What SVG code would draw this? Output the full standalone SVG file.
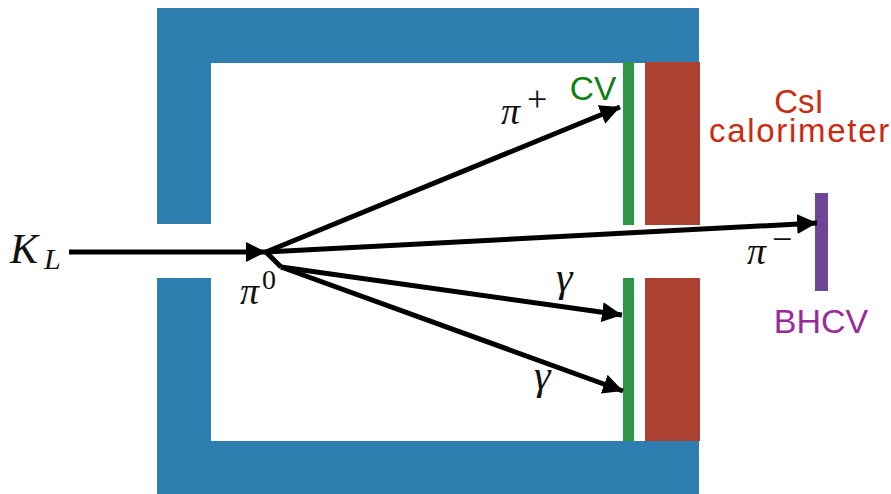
<svg xmlns="http://www.w3.org/2000/svg" width="891" height="494" viewBox="0 0 891 494">
<style>
.blue{fill:#2e7fb0}.red{fill:#ab4130}.green{fill:#2e9645}.purple{fill:#6f4595}
.s{font-family:"Liberation Sans",Arial,sans-serif;text-anchor:middle}
.m{font-family:"Liberation Serif","Times New Roman",serif;fill:#111}
.i{font-style:italic}
.c{fill:none;stroke:#000;stroke-width:5}
</style>
<defs><marker id="a" markerUnits="userSpaceOnUse" markerWidth="22" markerHeight="22" refX="20" refY="10" orient="auto"><path d="M0 0L20 10L0 20Z" fill="#000"/></marker></defs>
<rect width="891" height="494" fill="#fff"/>
<g id="shield-top"><path class="blue" d="M157 8H699V63H211V224H157Z"/></g>
<g id="shield-bottom"><path class="blue" d="M157 278H211V441H699V494H157Z"/></g>
<g id="cv-top"><rect class="green" x="623" y="62" width="11" height="163"/></g>
<g id="cv-bottom"><rect class="green" x="623" y="278" width="11" height="163"/></g>
<g id="csi-top"><rect class="red" x="645" y="62" width="55" height="163"/></g>
<g id="csi-bottom"><rect class="red" x="645" y="278" width="55" height="163"/></g>
<g id="bhcv"><rect class="purple" x="815" y="193" width="13" height="98"/></g>
<g id="connectors">
<path class="c" marker-end="url(#a)" d="M69 252H266"/>
<path class="c" marker-end="url(#a)" d="M266 252L620 107"/>
<path class="c" marker-end="url(#a)" d="M266 252L817 223"/>
<path class="c" d="M266 252L281 267"/>
<path class="c" marker-end="url(#a)" d="M281 267L622 315"/>
<path class="c" marker-end="url(#a)" d="M281 267L623 391"/>
</g>
<g id="labels">
<text class="m i" x="10" y="263" font-size="42">K</text>
<text class="m i" x="44" y="269" font-size="30">L</text>
<text class="m i" x="240" y="304" font-size="38">π</text>
<text class="m" x="262" y="289" font-size="28">0</text>
<text class="m i" x="501" y="124" font-size="38">π</text>
<text class="m" x="527" y="111" font-size="36">+</text>
<text class="m i" x="747" y="264" font-size="38">π</text>
<text class="m" x="772" y="251" font-size="36">−</text>
<text class="m i" x="556" y="291" font-size="42">γ</text>
<text class="m i" x="534" y="389" font-size="42">γ</text>
<text class="s" x="593" y="100" font-size="33.5" fill="#0f7f17">CV</text>
<text class="s" font-size="33" fill="#cc2a10"><tspan x="799" y="113">CsI</tspan><tspan x="800" y="142" letter-spacing="1.7">calorimeter</tspan></text>
<text class="s" x="821" y="333" font-size="34" fill="#9c2a9c">BHCV</text>
</g>
</svg>
